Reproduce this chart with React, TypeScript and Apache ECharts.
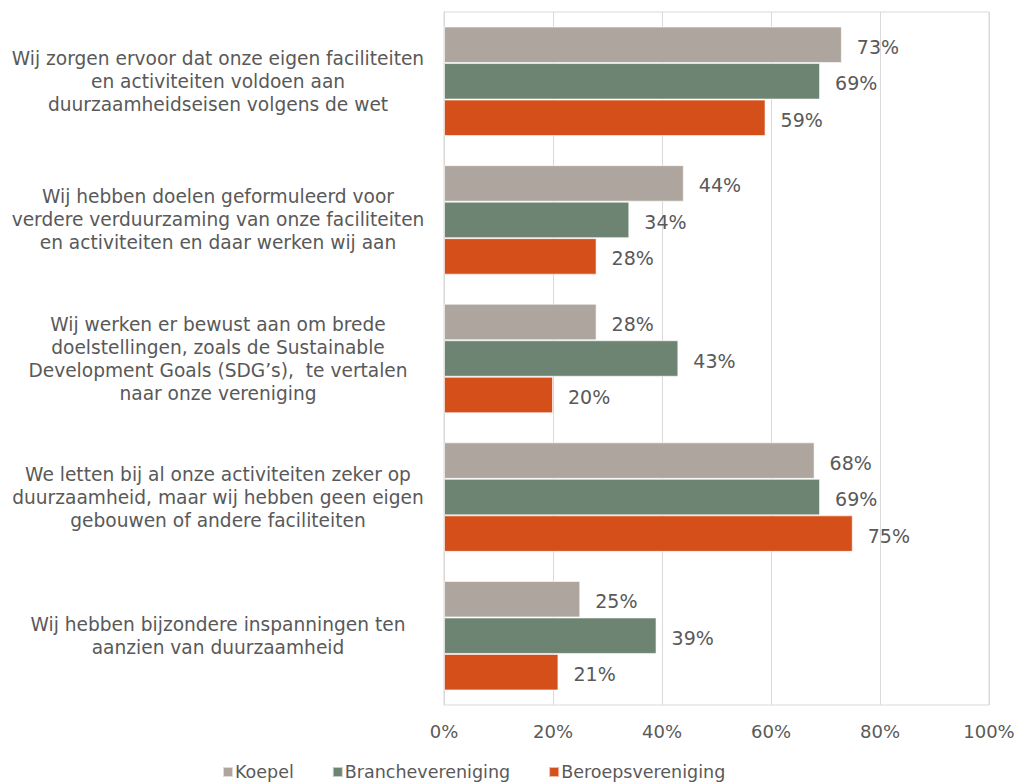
import React, { useEffect, useRef } from "react";
import * as echarts from "echarts";

const categories = [
  "Wij zorgen ervoor dat onze eigen faciliteiten\nen activiteiten voldoen aan\nduurzaamheidseisen volgens de wet",
  "Wij hebben doelen geformuleerd voor\nverdere verduurzaming van onze faciliteiten\nen activiteiten en daar werken wij aan",
  "Wij werken er bewust aan om brede\ndoelstellingen, zoals de Sustainable\nDevelopment Goals (SDG’s),  te vertalen\nnaar onze vereniging",
  "We letten bij al onze activiteiten zeker op\nduurzaamheid, maar wij hebben geen eigen\ngebouwen of andere faciliteiten",
  "Wij hebben bijzondere inspanningen ten\naanzien van duurzaamheid",
];

const seriesNames = ["Koepel", "Branchevereniging", "Beroepsvereniging"];
const koepel = [73, 44, 28, 68, 25];
const branche = [69, 34, 43, 69, 39];
const beroep = [59, 28, 20, 75, 21];
const colors = ["#ADA59E", "#6E8472", "#D44F1A"];

const FONT = "'DejaVu Sans', Verdana, sans-serif";
const TEXT = "#595959";

export default function App() {
  const ref = useRef<HTMLDivElement>(null);
  useEffect(() => {
    if (!ref.current) return;
    const chart = echarts.init(ref.current, undefined, { renderer: "svg" });
    const data = [koepel, branche, beroep];
    chart.setOption({
      animation: false,
      textStyle: { fontFamily: FONT, color: TEXT },
      grid: { left: 444, right: 32, top: 12, bottom: 78, show: true, borderColor: "#D9D9D9", borderWidth: 1 },
      legend: {
        data: seriesNames,
        left: 222,
        top: 763,
        padding: 0,
        icon: "rect",
        itemWidth: 10,
        itemHeight: 10,
        itemGap: 38,
        textStyle: { fontFamily: FONT, color: TEXT, fontSize: 17.5, padding: [0, 0, 0, -3] },
      },
      xAxis: {
        type: "value",
        min: 0,
        max: 100,
        interval: 20,
        axisLine: { show: false },
        axisTick: { show: false },
        splitLine: { show: true, lineStyle: { color: "#D9D9D9", width: 1 } },
        axisLabel: { formatter: "{value}%", color: TEXT, fontSize: 18, fontFamily: FONT, margin: 17 },
      },
      yAxis: {
        type: "category",
        inverse: true,
        data: categories,
        axisLine: { show: true, lineStyle: { color: "#D9D9D9" } },
        axisTick: { show: false },
        axisLabel: {
          color: TEXT,
          fontSize: 18.6,
          fontFamily: FONT,
          lineHeight: 23,
          align: "center",
          margin: 226,
        },
      },
      series: seriesNames.map((name, i) => ({
        name,
        type: "bar",
        data: data[i],
        barGap: "0%",
        barCategoryGap: "21%",
        itemStyle: { color: colors[i], borderColor: "rgba(255,255,255,0.6)", borderWidth: 1 },
        label: {
          show: true,
          position: "right",
          distance: 15,
          formatter: "{c}%",
          color: TEXT,
          fontSize: 19,
          fontFamily: FONT,
          offset: [0, 2],
        },
      })),
    });
    return () => chart.dispose();
  }, []);
  return <div ref={ref} style={{ width: 1021, height: 783, position: "absolute", left: 0, top: 0 }} />;
}
